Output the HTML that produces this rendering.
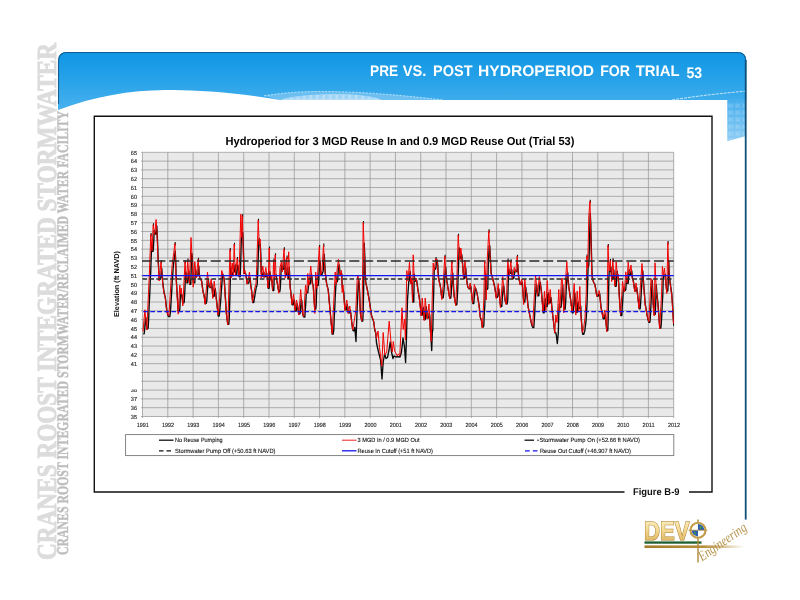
<!DOCTYPE html>
<html><head><meta charset="utf-8"><title>PRE VS. POST HYDROPERIOD FOR TRIAL 53</title>
<style>html,body{margin:0;padding:0;background:#fff}body{width:800px;height:600px;position:relative;overflow:hidden;font-family:"Liberation Sans",sans-serif}</style>
</head><body>
<svg width="800" height="600" viewBox="0 0 800 600" style="position:absolute;left:0;top:0;will-change:transform;text-rendering:geometricPrecision;font-family:'Liberation Sans',sans-serif">
<defs>
<linearGradient id="bg" x1="0" y1="0" x2="0" y2="1"><stop offset="0" stop-color="#0f96e5"/><stop offset="0.55" stop-color="#2ba4e9"/><stop offset="1" stop-color="#4ab1ee"/></linearGradient>
<linearGradient id="strip" x1="0" y1="0" x2="0" y2="1"><stop offset="0" stop-color="#45aeed"/><stop offset="1" stop-color="#8fcdf4"/></linearGradient>
<linearGradient id="gold" x1="0" y1="0" x2="0" y2="1"><stop offset="0" stop-color="#fff6d2"/><stop offset="0.5" stop-color="#f3d88f"/><stop offset="1" stop-color="#d1a450"/></linearGradient>
<linearGradient id="goldbar" x1="0" y1="0" x2="1" y2="0"><stop offset="0" stop-color="#a67c2c"/><stop offset="0.6" stop-color="#b98f3e"/><stop offset="1" stop-color="#b98f3e" stop-opacity="0"/></linearGradient>
<pattern id="chk" x="728.5" y="103.5" width="7" height="7" patternUnits="userSpaceOnUse"><rect x="0" y="0" width="2" height="1.8" fill="#fff" opacity="0.22"/><rect x="2.5" y="0" width="2" height="1.8" fill="#fff" opacity="0.22"/><rect x="0" y="2.2" width="2" height="1.8" fill="#fff" opacity="0.22"/><rect x="2.5" y="2.2" width="2" height="1.8" fill="#fff" opacity="0.22"/></pattern>
<pattern id="chk2" x="286" y="95" width="6.5" height="6.5" patternUnits="userSpaceOnUse"><rect x="0" y="0" width="4" height="4" fill="#6dbdf0" opacity="0.35"/></pattern>
<clipPath id="plotclip"><rect x="142" y="152" width="532" height="265"/></clipPath>
</defs>
<rect width="800" height="600" fill="#fff"/>
<g font-family="'Liberation Serif',serif" font-weight="bold">
<text transform="translate(56,560) rotate(-90)" font-size="27.6" fill="#dcdcdc" stroke="#dcdcdc" stroke-width="0.9" textLength="517" lengthAdjust="spacingAndGlyphs">CRANES ROOST INTEGRATED STORMWATER</text>
<text transform="translate(68.3,555) rotate(-90)" font-size="16" fill="#bdbdbd" stroke="#bdbdbd" stroke-width="0.45" textLength="444" lengthAdjust="spacingAndGlyphs">CRANES ROOST INTEGRATED STORMWATER/RECLAIMED WATER FACILITY</text>
</g>
<path d="M58,110 L58,61 Q58,52 67,52 L737.3,52 Q746.3,52 746.3,61 L746.3,100 L280,100 C268,98.2 255,96 240,94.3 C215,91.3 185,90 165,90 C130,90.5 95,96 58,110 Z" fill="url(#bg)"/>
<path d="M727.3,99 L746,99 L746,136 L727.3,141.3 Z" fill="url(#strip)"/>
<path d="M727.3,103 L746,103 L746,136 L727.3,141.3 Z" fill="url(#chk)"/>
<path d="M264,95.8 C285,92.6 300,91.5 320,91.5 C360,91.5 400,95 443,100 L279,100 Z" fill="#9fd3f5" opacity="0.5"/>
<path d="M283,99 C300,94.6 330,93.8 350,94.6 C365,95.4 376,97.5 382,100 L281,100 Z" fill="#d4ebfb" opacity="0.75"/>
<path d="M283,99 C300,94.6 330,93.8 350,94.6 C365,95.4 376,97.5 382,100 L281,100 Z" fill="url(#chk2)"/>
<path d="M264,95.8 C285,92.6 300,91.5 320,91.5 C360,91.5 400,95 443,100" fill="none" stroke="#e8f5fd" stroke-width="0.7" stroke-dasharray="2.2 1.2" opacity="0.9"/>
<path d="M672,100 C700,95.5 725,93 745,91.2" fill="none" stroke="#e6f4fd" stroke-width="0.8" stroke-dasharray="3 1"/>
<path d="M58.5,104 L58.5,61 Q58.5,52.5 67,52.5 L737.3,52.5 Q745.8,52.5 745.8,61" fill="none" stroke="#0f5486" stroke-width="1.1" opacity="0.85"/>
<rect x="744.8" y="60" width="1.8" height="459.6" fill="#0f507b"/>
<g font-size="15.4" font-weight="bold" fill="#fff">
<text x="370.1" y="75.5" textLength="28.15" lengthAdjust="spacingAndGlyphs">PRE</text>
<text x="402.75" y="75.5" textLength="23.65" lengthAdjust="spacingAndGlyphs">VS.</text>
<text x="433.1" y="75.5" textLength="39.40" lengthAdjust="spacingAndGlyphs">POST</text>
<text x="478.1" y="75.5" textLength="116.00" lengthAdjust="spacingAndGlyphs">HYDROPERIOD</text>
<text x="600.2" y="75.5" textLength="29.90" lengthAdjust="spacingAndGlyphs">FOR</text>
<text x="635.75" y="75.5" textLength="43.85" lengthAdjust="spacingAndGlyphs">TRIAL</text>
<text x="686.4" y="78.1" textLength="15.70" lengthAdjust="spacingAndGlyphs">53</text>
</g>
<path d="M624.5,492 L94.3,492 L94.3,116.3 L712,116.3 L712,492 L689,492" fill="none" stroke="#111" stroke-width="1.4"/>
<text x="633" y="495" font-size="9.8" font-weight="bold" fill="#111" textLength="46.5" lengthAdjust="spacingAndGlyphs">Figure B-9</text>
<text x="225.5" y="145.2" font-size="11.6" font-weight="bold" fill="#000" textLength="349" lengthAdjust="spacingAndGlyphs">Hydroperiod for 3 MGD Reuse In and 0.9 MGD Reuse Out (Trial 53)</text>
<rect x="142.5" y="152.3" width="531.2" height="264.2" fill="#e9e9e9"/>
<path d="M141.0,416.50 H673.7 M141.0,407.69 H673.7 M141.0,398.89 H673.7 M141.0,390.08 H673.7 M141.0,381.27 H673.7 M141.0,372.47 H673.7 M141.0,363.66 H673.7 M141.0,354.85 H673.7 M141.0,346.05 H673.7 M141.0,337.24 H673.7 M141.0,328.43 H673.7 M141.0,319.63 H673.7 M141.0,310.82 H673.7 M141.0,302.01 H673.7 M141.0,293.21 H673.7 M141.0,284.40 H673.7 M141.0,275.59 H673.7 M141.0,266.79 H673.7 M141.0,257.98 H673.7 M141.0,249.17 H673.7 M141.0,240.37 H673.7 M141.0,231.56 H673.7 M141.0,222.75 H673.7 M141.0,213.95 H673.7 M141.0,205.14 H673.7 M141.0,196.33 H673.7 M141.0,187.53 H673.7 M141.0,178.72 H673.7 M141.0,169.91 H673.7 M141.0,161.11 H673.7 M141.0,152.30 H673.7 M142.50,152.3 V418.0 M167.80,152.3 V418.0 M193.09,152.3 V418.0 M218.39,152.3 V418.0 M243.68,152.3 V418.0 M268.98,152.3 V418.0 M294.27,152.3 V418.0 M319.57,152.3 V418.0 M344.86,152.3 V418.0 M370.16,152.3 V418.0 M395.45,152.3 V418.0 M420.75,152.3 V418.0 M446.04,152.3 V418.0 M471.34,152.3 V418.0 M496.63,152.3 V418.0 M521.93,152.3 V418.0 M547.22,152.3 V418.0 M572.52,152.3 V418.0 M597.81,152.3 V418.0 M623.11,152.3 V418.0 M648.40,152.3 V418.0 M673.70,152.3 V418.0" fill="none" stroke="#979797" stroke-width="0.75"/>
<g font-size="5.9" fill="#1c1c1c" stroke="#1c1c1c" stroke-width="0.12">
<text x="130.8" y="418.6" textLength="6.2" lengthAdjust="spacingAndGlyphs">35</text>
<text x="130.8" y="409.8" textLength="6.2" lengthAdjust="spacingAndGlyphs">36</text>
<text x="130.8" y="401.0" textLength="6.2" lengthAdjust="spacingAndGlyphs">37</text>
<text x="130.8" y="392.2" textLength="6.2" lengthAdjust="spacingAndGlyphs">38</text>
<text x="130.8" y="365.8" textLength="6.2" lengthAdjust="spacingAndGlyphs">41</text>
<text x="130.8" y="357.0" textLength="6.2" lengthAdjust="spacingAndGlyphs">42</text>
<text x="130.8" y="348.2" textLength="6.2" lengthAdjust="spacingAndGlyphs">43</text>
<text x="130.8" y="339.4" textLength="6.2" lengthAdjust="spacingAndGlyphs">44</text>
<text x="130.8" y="330.6" textLength="6.2" lengthAdjust="spacingAndGlyphs">45</text>
<text x="130.8" y="321.8" textLength="6.2" lengthAdjust="spacingAndGlyphs">46</text>
<text x="130.8" y="313.0" textLength="6.2" lengthAdjust="spacingAndGlyphs">47</text>
<text x="130.8" y="304.2" textLength="6.2" lengthAdjust="spacingAndGlyphs">48</text>
<text x="130.8" y="295.4" textLength="6.2" lengthAdjust="spacingAndGlyphs">49</text>
<text x="130.8" y="286.5" textLength="6.2" lengthAdjust="spacingAndGlyphs">50</text>
<text x="130.8" y="277.7" textLength="6.2" lengthAdjust="spacingAndGlyphs">51</text>
<text x="130.8" y="268.9" textLength="6.2" lengthAdjust="spacingAndGlyphs">52</text>
<text x="130.8" y="260.1" textLength="6.2" lengthAdjust="spacingAndGlyphs">53</text>
<text x="130.8" y="251.3" textLength="6.2" lengthAdjust="spacingAndGlyphs">54</text>
<text x="130.8" y="242.5" textLength="6.2" lengthAdjust="spacingAndGlyphs">55</text>
<text x="130.8" y="233.7" textLength="6.2" lengthAdjust="spacingAndGlyphs">56</text>
<text x="130.8" y="224.9" textLength="6.2" lengthAdjust="spacingAndGlyphs">57</text>
<text x="130.8" y="216.1" textLength="6.2" lengthAdjust="spacingAndGlyphs">58</text>
<text x="130.8" y="207.3" textLength="6.2" lengthAdjust="spacingAndGlyphs">59</text>
<text x="130.8" y="198.5" textLength="6.2" lengthAdjust="spacingAndGlyphs">60</text>
<text x="130.8" y="189.7" textLength="6.2" lengthAdjust="spacingAndGlyphs">61</text>
<text x="130.8" y="180.9" textLength="6.2" lengthAdjust="spacingAndGlyphs">62</text>
<text x="130.8" y="172.1" textLength="6.2" lengthAdjust="spacingAndGlyphs">63</text>
<text x="130.8" y="163.3" textLength="6.2" lengthAdjust="spacingAndGlyphs">64</text>
<text x="130.8" y="154.5" textLength="6.2" lengthAdjust="spacingAndGlyphs">65</text>
</g>
<rect x="128" y="385.5" width="11" height="3.9" fill="#fff"/>
<g font-size="6.1" fill="#1c1c1c" stroke="#1c1c1c" stroke-width="0.12">
<text x="136.7" y="426.9" textLength="12.1" lengthAdjust="spacingAndGlyphs">1991</text>
<text x="162.0" y="426.9" textLength="12.1" lengthAdjust="spacingAndGlyphs">1992</text>
<text x="187.3" y="426.9" textLength="12.1" lengthAdjust="spacingAndGlyphs">1993</text>
<text x="212.6" y="426.9" textLength="12.1" lengthAdjust="spacingAndGlyphs">1994</text>
<text x="237.9" y="426.9" textLength="12.1" lengthAdjust="spacingAndGlyphs">1995</text>
<text x="263.2" y="426.9" textLength="12.1" lengthAdjust="spacingAndGlyphs">1996</text>
<text x="288.5" y="426.9" textLength="12.1" lengthAdjust="spacingAndGlyphs">1997</text>
<text x="313.8" y="426.9" textLength="12.1" lengthAdjust="spacingAndGlyphs">1998</text>
<text x="339.1" y="426.9" textLength="12.1" lengthAdjust="spacingAndGlyphs">1999</text>
<text x="364.4" y="426.9" textLength="12.1" lengthAdjust="spacingAndGlyphs">2000</text>
<text x="389.7" y="426.9" textLength="12.1" lengthAdjust="spacingAndGlyphs">2001</text>
<text x="414.9" y="426.9" textLength="12.1" lengthAdjust="spacingAndGlyphs">2002</text>
<text x="440.2" y="426.9" textLength="12.1" lengthAdjust="spacingAndGlyphs">2003</text>
<text x="465.5" y="426.9" textLength="12.1" lengthAdjust="spacingAndGlyphs">2004</text>
<text x="490.8" y="426.9" textLength="12.1" lengthAdjust="spacingAndGlyphs">2005</text>
<text x="516.1" y="426.9" textLength="12.1" lengthAdjust="spacingAndGlyphs">2006</text>
<text x="541.4" y="426.9" textLength="12.1" lengthAdjust="spacingAndGlyphs">2007</text>
<text x="566.7" y="426.9" textLength="12.1" lengthAdjust="spacingAndGlyphs">2008</text>
<text x="592.0" y="426.9" textLength="12.1" lengthAdjust="spacingAndGlyphs">2009</text>
<text x="617.3" y="426.9" textLength="12.1" lengthAdjust="spacingAndGlyphs">2010</text>
<text x="642.6" y="426.9" textLength="12.1" lengthAdjust="spacingAndGlyphs">2011</text>
<text x="667.9" y="426.9" textLength="12.1" lengthAdjust="spacingAndGlyphs">2012</text>
</g>
<text transform="translate(119.3,284) rotate(-90)" text-anchor="middle" font-size="7.2" font-weight="bold" fill="#111" textLength="66" lengthAdjust="spacingAndGlyphs">Elevation (ft NAVD)</text>
<g clip-path="url(#plotclip)" fill="none" stroke-linejoin="round">
<path d="M143.2,333.8 L143.8,333.8 L144.2,333.8 L144.8,327.7 L145.2,321.5 L145.8,317.3 L146.2,323.0 L146.8,328.8 L147.2,328.8 L147.8,328.8 L148.2,327.6 L148.8,316.0 L149.2,304.6 L149.8,293.5 L150.2,282.1 L150.8,269.9 L151.2,256.4 L151.8,244.4 L152.2,251.3 L152.8,251.3 L153.2,251.3 L153.8,240.4 L154.2,230.6 L154.8,234.1 L155.2,234.1 L155.8,234.1 L156.2,230.8 L156.8,225.8 L157.2,234.4 L157.8,247.3 L158.2,260.3 L158.8,269.8 L159.2,279.4 L159.8,279.4 L160.2,279.4 L160.8,277.5 L161.2,272.7 L161.8,268.6 L162.2,275.5 L162.8,282.3 L163.2,286.2 L163.8,290.1 L164.2,293.3 L164.8,295.2 L165.2,297.1 L165.8,300.9 L166.2,305.6 L166.8,310.1 L167.2,312.5 L167.8,314.7 L168.2,316.2 L168.8,316.6 L169.2,316.6 L169.8,316.6 L170.2,313.9 L170.8,306.4 L171.2,299.3 L171.8,290.3 L172.2,281.3 L172.8,274.2 L173.2,267.5 L173.8,262.5 L174.2,258.8 L174.8,255.1 L175.2,251.2 L175.8,262.6 L176.2,278.3 L176.8,286.5 L177.2,294.8 L177.8,303.0 L178.2,311.6 L178.8,311.6 L179.2,311.6 L179.8,309.0 L180.2,299.9 L180.8,294.3 L181.2,294.3 L181.8,294.3 L182.2,297.3 L182.8,302.9 L183.2,302.9 L183.8,302.9 L184.2,302.3 L184.8,292.1 L185.2,282.0 L185.8,271.9 L186.2,275.8 L186.8,282.8 L187.2,282.8 L187.8,282.8 L188.2,273.4 L188.8,271.0 L189.2,277.6 L189.8,284.3 L190.2,284.3 L190.8,284.3 L191.2,268.8 L191.8,253.3 L192.2,256.6 L192.8,268.5 L193.2,282.1 L193.8,282.7 L194.2,282.7 L194.8,282.7 L195.2,274.7 L195.8,270.1 L196.2,275.9 L196.8,275.9 L197.2,275.9 L197.8,275.5 L198.2,270.8 L198.8,266.1 L199.2,273.3 L199.8,277.4 L200.2,278.4 L200.8,279.3 L201.2,280.3 L201.8,281.3 L202.2,285.4 L202.8,289.4 L203.2,292.4 L203.8,294.2 L204.2,296.2 L204.8,299.8 L205.2,303.4 L205.8,303.4 L206.2,303.4 L206.8,300.6 L207.2,293.5 L207.8,286.4 L208.2,279.4 L208.8,283.1 L209.2,286.1 L209.8,287.5 L210.2,287.5 L210.8,287.5 L211.2,287.0 L211.8,283.8 L212.2,289.1 L212.8,295.1 L213.2,296.3 L213.8,296.3 L214.2,296.3 L214.8,290.2 L215.2,288.7 L215.8,293.1 L216.2,297.6 L216.8,302.0 L217.2,306.4 L217.8,311.2 L218.2,316.0 L218.8,316.0 L219.2,316.0 L219.8,310.8 L220.2,305.6 L220.8,299.7 L221.2,292.4 L221.8,285.2 L222.2,279.6 L222.8,274.1 L223.2,275.4 L223.8,277.4 L224.2,279.3 L224.8,287.1 L225.2,295.0 L225.8,302.8 L226.2,311.0 L226.8,316.7 L227.2,320.5 L227.8,324.3 L228.2,324.3 L228.8,324.3 L229.2,319.2 L229.8,301.1 L230.2,284.0 L230.8,266.9 L231.2,275.7 L231.8,275.7 L232.2,275.7 L232.8,272.8 L233.2,272.0 L233.8,272.0 L234.2,272.0 L234.8,268.5 L235.2,265.0 L235.8,274.4 L236.2,274.4 L236.8,274.4 L237.2,269.8 L237.8,265.2 L238.2,266.8 L238.8,271.8 L239.2,276.8 L239.8,276.8 L240.2,276.8 L240.8,259.5 L241.2,242.2 L241.8,232.6 L242.2,232.6 L242.8,232.6 L243.2,243.0 L243.8,262.3 L244.2,273.3 L244.8,273.3 L245.2,273.3 L245.8,273.9 L246.2,277.0 L246.8,280.1 L247.2,283.3 L247.8,283.3 L248.2,283.3 L248.8,282.9 L249.2,280.3 L249.8,277.6 L250.2,278.5 L250.8,284.8 L251.2,288.1 L251.8,291.4 L252.2,297.0 L252.8,302.5 L253.2,302.5 L253.8,302.5 L254.2,299.4 L254.8,296.3 L255.2,293.2 L255.8,290.2 L256.2,287.6 L256.8,286.0 L257.2,284.3 L257.8,272.1 L258.2,258.5 L258.8,242.7 L259.2,238.5 L259.8,243.8 L260.2,243.8 L260.8,253.5 L261.2,271.2 L261.8,276.0 L262.2,276.0 L262.8,276.0 L263.2,272.3 L263.8,272.3 L264.2,276.6 L264.8,276.6 L265.2,276.6 L265.8,276.3 L266.2,273.1 L266.8,273.1 L267.2,276.8 L267.8,282.1 L268.2,288.3 L268.8,288.3 L269.2,288.3 L269.8,271.6 L270.2,274.3 L270.8,279.3 L271.2,279.3 L271.8,279.3 L272.2,284.2 L272.8,290.5 L273.2,290.5 L273.8,290.5 L274.2,277.9 L274.8,275.4 L275.2,275.4 L275.8,275.4 L276.2,274.9 L276.8,280.7 L277.2,282.3 L277.8,285.4 L278.2,288.5 L278.8,291.6 L279.2,291.6 L279.8,291.6 L280.2,289.2 L280.8,278.5 L281.2,267.8 L281.8,265.8 L282.2,269.3 L282.8,269.3 L283.2,269.3 L283.8,268.6 L284.2,262.5 L284.8,259.7 L285.2,273.0 L285.8,274.4 L286.2,274.4 L286.8,274.4 L287.2,267.8 L287.8,278.3 L288.2,278.3 L288.8,278.3 L289.2,267.4 L289.8,276.2 L290.2,287.1 L290.8,291.5 L291.2,295.9 L291.8,300.4 L292.2,304.8 L292.8,304.8 L293.2,304.8 L293.8,301.3 L294.2,299.8 L294.8,305.3 L295.2,311.1 L295.8,311.1 L296.2,311.1 L296.8,307.3 L297.2,303.8 L297.8,306.8 L298.2,310.1 L298.8,313.9 L299.2,313.9 L299.8,313.9 L300.2,313.1 L300.8,305.9 L301.2,299.2 L301.8,300.5 L302.2,307.1 L302.8,314.4 L303.2,315.7 L303.8,317.1 L304.2,317.1 L304.8,317.1 L305.2,311.9 L305.8,302.8 L306.2,294.0 L306.8,292.8 L307.2,292.8 L307.8,292.8 L308.2,288.7 L308.8,282.2 L309.2,283.9 L309.8,283.9 L310.2,283.9 L310.8,279.0 L311.2,274.1 L311.8,275.3 L312.2,281.7 L312.8,284.7 L313.2,285.3 L313.8,293.2 L314.2,301.1 L314.8,309.0 L315.2,309.0 L315.8,309.0 L316.2,304.6 L316.8,284.3 L317.2,285.4 L317.8,285.4 L318.2,285.4 L318.8,277.0 L319.2,268.6 L319.8,260.2 L320.2,263.4 L320.8,275.3 L321.2,275.3 L321.8,275.3 L322.2,273.8 L322.8,272.3 L323.2,270.8 L323.8,262.3 L324.2,254.3 L324.8,263.3 L325.2,272.3 L325.8,276.3 L326.2,280.3 L326.8,284.3 L327.2,286.1 L327.8,288.0 L328.2,289.8 L328.8,295.3 L329.2,300.7 L329.8,306.2 L330.2,312.0 L330.8,317.7 L331.2,323.1 L331.8,328.6 L332.2,334.1 L332.8,334.1 L333.2,334.1 L333.8,329.7 L334.2,318.6 L334.8,307.5 L335.2,297.3 L335.8,286.9 L336.2,281.9 L336.8,281.9 L337.2,281.9 L337.8,279.2 L338.2,270.8 L338.8,267.0 L339.2,264.8 L339.8,270.0 L340.2,275.3 L340.8,275.3 L341.2,275.3 L341.8,273.8 L342.2,286.5 L342.8,290.0 L343.2,290.0 L343.8,292.4 L344.2,299.5 L344.8,306.5 L345.2,309.8 L345.8,309.8 L346.2,309.8 L346.8,307.1 L347.2,304.5 L347.8,307.1 L348.2,312.3 L348.8,312.9 L349.2,312.9 L349.8,312.9 L350.2,310.1 L350.8,312.8 L351.2,317.5 L351.8,322.2 L352.2,326.3 L352.8,330.0 L353.2,330.8 L353.8,330.8 L354.2,330.8 L354.8,327.3 L356.0,341.5 L357.2,306.3 L357.8,295.1 L358.2,283.8 L358.8,279.8 L359.2,284.4 L359.8,295.7 L360.2,308.6 L360.8,315.9 L361.2,318.4 L361.8,321.0 L362.2,321.0 L362.8,321.0 L363.2,309.9 L363.8,281.3 L364.2,243.1 L364.8,255.7 L365.2,272.3 L365.8,282.5 L366.2,284.6 L366.8,286.6 L367.2,288.9 L367.8,291.6 L368.2,294.3 L368.8,297.1 L369.2,299.8 L369.8,303.2 L370.2,306.6 L370.8,310.0 L371.2,314.0 L371.8,316.3 L372.2,317.7 L372.8,319.1 L373.2,320.5 L373.8,321.9 L374.2,326.0 L374.8,330.1 L375.2,331.6 L375.8,333.1 L376.5,343.0 L378.5,352.0 L380.6,360.0 L382.0,379.0 L383.2,362.0 L384.6,354.0 L386.0,358.5 L387.5,357.5 L389.0,350.0 L390.2,342.0 L391.5,352.0 L393.0,358.5 L394.0,356.0 L396.0,357.0 L398.0,356.6 L400.0,357.0 L401.5,352.0 L403.0,338.0 L404.4,346.0 L405.6,362.5 L406.4,340.0 L407.5,300.0 L408.8,281.3 L409.2,281.3 L409.8,275.0 L410.2,271.6 L410.8,280.7 L411.2,282.7 L411.8,282.7 L412.2,285.1 L412.8,302.1 L413.2,302.1 L413.8,302.1 L414.2,274.2 L414.8,281.0 L415.2,281.0 L415.8,281.0 L416.2,280.2 L416.8,280.6 L417.2,284.3 L417.8,288.0 L418.2,291.4 L418.8,294.3 L419.2,297.2 L419.8,301.0 L420.2,305.5 L420.8,310.0 L421.2,315.1 L421.8,315.1 L422.2,315.1 L422.8,311.2 L423.2,307.3 L423.8,313.4 L424.2,319.5 L424.8,319.5 L425.2,319.5 L425.8,314.6 L426.2,306.7 L426.8,312.4 L427.2,318.1 L427.8,318.1 L428.2,318.1 L428.8,317.6 L429.2,313.1 L429.8,315.6 L430.2,327.1 L431.0,338.0 L431.7,350.5 L432.4,330.0 L432.8,330.9 L433.2,308.0 L433.8,288.2 L434.2,270.4 L434.8,269.3 L435.2,269.3 L435.8,268.5 L436.2,264.8 L436.8,261.1 L437.2,260.1 L437.8,265.2 L438.2,273.4 L438.8,279.1 L439.2,281.2 L439.8,283.4 L440.2,285.5 L440.8,288.8 L441.2,293.1 L441.8,297.3 L442.2,297.7 L442.8,297.7 L443.2,297.7 L443.8,292.3 L444.2,286.9 L444.8,279.5 L445.2,270.7 L445.8,267.4 L446.2,275.2 L446.8,280.1 L447.2,283.2 L447.8,286.2 L448.2,289.3 L448.8,292.3 L449.2,295.1 L449.8,298.0 L450.2,298.0 L450.8,298.0 L451.2,293.8 L451.8,284.9 L452.2,276.0 L452.8,273.2 L453.2,281.3 L453.8,290.0 L454.2,296.4 L454.8,299.2 L455.2,301.9 L455.8,304.7 L456.2,304.7 L456.8,304.7 L457.2,299.1 L457.8,288.0 L458.2,274.8 L458.8,258.4 L459.2,247.9 L459.8,255.6 L460.2,258.1 L460.8,258.1 L461.2,258.1 L461.8,254.7 L462.2,260.1 L462.8,265.8 L463.2,272.0 L463.8,278.3 L464.2,278.3 L464.8,278.3 L465.2,272.3 L465.8,267.8 L466.2,275.3 L466.8,280.2 L467.2,283.5 L467.8,286.7 L468.2,287.7 L468.8,288.7 L469.2,288.7 L469.8,288.7 L470.2,288.4 L470.8,286.3 L471.2,290.3 L471.8,294.7 L472.2,299.1 L472.8,303.5 L473.2,303.5 L473.8,303.5 L474.2,298.3 L474.8,293.1 L475.2,287.9 L475.8,288.6 L476.2,290.2 L476.8,291.8 L477.2,294.0 L477.8,297.1 L478.2,300.2 L478.8,303.2 L479.2,306.3 L479.8,311.7 L480.2,317.1 L480.8,318.8 L481.2,319.6 L481.8,322.6 L482.2,327.1 L482.8,327.1 L483.2,327.1 L483.8,325.8 L484.2,315.8 L484.8,305.9 L485.2,290.7 L485.8,274.2 L486.2,289.3 L486.8,289.3 L487.2,289.3 L487.8,288.3 L488.2,268.3 L488.8,254.8 L489.2,245.7 L489.8,245.9 L490.2,256.1 L490.8,264.9 L491.2,273.8 L491.8,275.3 L492.2,276.8 L492.8,278.3 L493.2,280.5 L493.8,282.6 L494.2,284.8 L494.8,287.0 L495.2,289.8 L495.8,293.6 L496.2,297.3 L496.8,297.3 L497.2,297.3 L497.8,296.5 L498.2,292.8 L498.8,289.0 L499.2,292.5 L499.8,298.0 L500.2,303.4 L500.8,306.5 L501.2,306.5 L501.8,306.5 L502.2,299.7 L502.8,293.0 L503.2,286.2 L503.8,285.8 L504.2,291.3 L504.8,296.9 L505.2,300.9 L505.8,302.4 L506.2,303.9 L506.8,303.9 L507.2,303.9 L507.8,298.9 L508.2,284.2 L508.8,269.3 L509.2,272.3 L509.8,273.4 L510.2,273.4 L510.8,273.4 L511.2,268.7 L511.8,269.8 L512.2,276.1 L512.8,278.5 L513.2,278.5 L513.8,278.5 L514.2,275.4 L514.8,272.2 L515.2,270.1 L515.8,271.5 L516.2,271.5 L516.8,271.5 L517.2,270.0 L517.8,264.4 L518.2,271.3 L518.8,277.7 L519.2,279.9 L519.8,282.2 L520.2,284.4 L520.8,284.4 L521.2,284.4 L521.8,284.2 L522.2,282.3 L522.8,288.7 L523.2,295.4 L523.8,302.1 L524.2,302.1 L524.8,302.1 L525.2,297.8 L525.8,287.2 L526.2,291.4 L526.8,293.5 L527.2,297.0 L527.8,302.8 L528.2,307.3 L528.8,309.6 L529.2,312.5 L529.8,315.0 L530.2,317.6 L530.8,320.1 L531.2,322.6 L531.8,324.8 L532.2,326.2 L532.8,327.5 L533.2,327.5 L533.8,327.5 L534.2,322.0 L534.8,311.9 L535.2,302.2 L535.8,292.8 L536.2,284.1 L536.8,285.6 L537.2,290.7 L537.8,295.8 L538.2,295.8 L538.8,295.8 L539.2,290.5 L539.8,285.2 L540.2,282.1 L540.8,286.0 L541.2,289.8 L541.8,294.8 L542.2,300.6 L542.8,306.5 L543.2,312.8 L543.8,312.8 L544.2,312.8 L544.8,305.3 L545.2,298.8 L545.8,306.3 L546.2,306.5 L546.8,306.5 L547.2,306.5 L547.8,295.8 L548.2,292.8 L548.8,300.3 L549.2,302.7 L549.8,302.7 L550.2,302.7 L550.8,297.3 L551.2,299.6 L551.8,305.6 L552.2,311.1 L552.8,315.2 L553.2,319.2 L553.8,323.6 L554.2,328.2 L554.8,332.7 L555.2,332.7 L555.8,332.7 L556.3,335.0 L557.3,343.5 L558.3,333.0 L558.8,314.2 L559.2,304.5 L559.8,307.3 L560.2,307.3 L560.8,307.3 L561.2,306.8 L561.8,297.6 L562.2,288.5 L562.8,284.8 L563.2,295.7 L563.8,306.6 L564.2,309.1 L564.8,309.1 L565.2,309.1 L565.8,299.2 L566.2,289.3 L566.8,280.9 L567.2,273.6 L567.8,272.8 L568.2,280.7 L568.8,286.0 L569.2,289.5 L569.8,293.1 L570.2,296.7 L570.8,300.3 L571.2,304.3 L571.8,308.3 L572.2,312.8 L572.8,312.8 L573.2,312.8 L573.8,305.8 L574.2,299.3 L574.8,292.9 L575.2,299.6 L575.8,309.4 L576.2,312.3 L576.8,312.3 L577.2,312.3 L577.8,303.3 L578.2,301.8 L578.8,308.4 L579.2,308.4 L579.8,308.4 L580.2,307.2 L580.8,306.4 L581.2,318.1 L581.8,324.5 L582.2,331.0 L582.8,334.3 L583.2,334.3 L583.8,334.3 L584.2,332.6 L584.8,331.0 L585.2,327.5 L585.8,323.1 L586.2,318.7 L586.8,308.4 L587.2,299.1 L587.8,275.8 L588.2,265.6 L588.8,265.6 L589.2,254.0 L589.8,230.1 L590.2,213.4 L590.8,223.5 L591.2,244.2 L591.8,263.9 L592.2,276.7 L592.8,278.8 L593.2,280.9 L593.8,282.4 L594.2,283.3 L594.8,284.2 L595.2,286.1 L595.8,289.2 L596.2,292.4 L596.8,295.5 L597.2,296.1 L597.8,296.1 L598.2,296.1 L598.8,294.9 L599.2,293.7 L599.8,293.9 L600.2,299.1 L600.8,304.2 L601.2,308.3 L601.8,311.0 L602.2,313.5 L602.8,316.1 L603.2,318.7 L603.8,318.7 L604.2,318.7 L604.8,316.4 L605.2,314.2 L605.8,318.8 L606.2,324.7 L606.8,330.6 L607.2,330.6 L607.8,330.6 L608.2,318.2 L608.8,280.3 L609.2,271.3 L609.8,271.3 L610.2,271.3 L610.8,266.9 L611.2,271.6 L611.8,278.8 L612.2,278.8 L612.8,278.8 L613.2,275.9 L613.8,270.0 L614.2,276.3 L614.8,281.3 L615.2,286.3 L615.8,286.3 L616.2,286.3 L616.8,276.3 L617.2,271.1 L617.8,276.6 L618.2,276.6 L618.8,283.8 L619.2,293.3 L619.8,302.8 L620.2,308.8 L620.8,315.5 L621.2,315.5 L621.8,315.5 L622.2,307.3 L622.8,299.8 L623.2,291.4 L623.8,287.6 L624.2,290.6 L624.8,290.6 L625.2,290.6 L625.8,289.6 L626.2,282.9 L626.8,278.6 L627.2,283.3 L627.8,283.3 L628.2,283.3 L628.8,274.6 L629.2,269.7 L629.8,274.3 L630.2,274.3 L630.8,274.3 L631.2,271.3 L631.8,270.9 L632.2,276.5 L632.8,279.4 L633.2,280.3 L633.8,283.6 L634.2,287.0 L634.8,290.3 L635.2,290.8 L635.8,290.8 L636.2,290.8 L636.8,287.5 L637.2,291.6 L637.8,295.8 L638.2,300.1 L638.8,304.4 L639.2,308.8 L639.8,308.8 L640.2,308.8 L640.8,300.8 L641.2,292.8 L641.8,284.8 L642.2,277.8 L642.8,270.8 L643.2,277.8 L643.8,284.8 L644.2,291.3 L644.8,297.8 L645.2,304.3 L645.8,307.0 L646.2,309.8 L646.8,313.0 L647.2,315.9 L647.8,318.3 L648.2,320.3 L648.8,322.3 L649.2,322.3 L649.8,322.3 L650.2,319.4 L650.8,308.8 L651.2,299.2 L651.8,289.1 L652.2,280.3 L652.8,291.5 L653.2,302.8 L653.8,309.8 L654.2,314.4 L654.8,314.4 L655.2,314.4 L655.8,301.1 L656.2,284.9 L656.8,292.1 L657.2,296.8 L657.8,301.5 L658.2,306.9 L658.8,314.0 L659.2,321.0 L659.8,328.1 L660.2,328.1 L660.8,328.1 L661.2,324.8 L661.8,314.7 L662.2,304.7 L662.8,295.3 L663.2,279.5 L663.8,275.8 L664.2,275.8 L664.8,275.8 L665.2,274.3 L665.8,280.3 L666.2,286.3 L666.8,291.0 L667.2,291.0 L667.8,291.0 L668.2,283.6 L668.8,261.2 L669.2,274.3 L669.8,279.0 L670.2,283.2 L670.8,286.8 L671.2,290.3 L671.8,293.9 L672.2,300.0 L672.8,308.0 L673.2,316.6 L673.8,325.2 L674.2,325.2" stroke="#0a0a0a" stroke-width="1.35"/>
<path d="M151.1,236.5 L151.1,233.0 M153.5,226.8 L153.5,223.3 M161.3,263.5 L161.3,260.0 M175.2,245.5 L175.2,242.0 M185.3,263.5 L185.3,260.0 M188.0,262.0 L188.0,258.5 M198.5,261.2 L198.5,257.7 M230.3,251.5 L230.3,248.0 M234.5,246.2 L234.5,242.7 M237.5,260.5 L237.5,257.0 M242.6,217.8 L242.6,214.3 M258.5,222.2 L258.5,218.7 M269.5,250.0 L269.5,246.5 M274.0,262.0 L274.0,258.5 M275.5,256.8 L275.5,253.3 M284.4,250.8 L284.4,247.3 M287.1,259.0 L287.1,255.5 M319.6,248.5 L319.6,245.0 M323.8,247.0 L323.8,243.5 M363.5,224.5 L363.5,221.0 M436.1,260.5 L436.1,257.0 M445.1,258.2 L445.1,254.7 M452.1,263.5 L452.1,260.0 M458.5,237.2 L458.5,233.7 M484.9,263.5 L484.9,260.0 M489.1,232.8 L489.1,229.3 M508.1,262.0 L508.1,258.5 M511.1,262.8 L511.1,259.3 M517.5,258.2 L517.5,254.7 M587.1,258.0 L587.1,254.5 M590.3,203.2 L590.3,199.7 M608.3,247.5 L608.3,244.0 M610.5,262.5 L610.5,259.0 M613.1,261.8 L613.1,258.3 M668.1,244.5 L668.1,241.0" stroke="#0a0a0a" stroke-width="1.1"/>
<path d="M143.0,331.5 L144.9,309.8 L146.8,330.0 L148.2,300.0 L149.3,275.0 L150.8,234.5 L152.0,251.0 L153.2,224.8 L154.6,234.5 L156.1,219.5 L156.9,231.5 L158.0,260.0 L159.1,281.0 L160.2,270.5 L161.0,261.5 L162.5,282.0 L163.8,292.4 L165.2,297.4 L166.5,309.7 L167.8,315.0 L168.8,315.8 L169.9,300.2 L171.1,279.8 L172.2,264.5 L173.8,252.5 L174.9,243.5 L176.0,278.0 L178.2,314.2 L179.8,285.0 L180.5,294.0 L181.2,288.0 L182.8,306.0 L185.0,261.5 L186.5,282.5 L187.7,260.0 L189.5,284.0 L191.0,237.5 L192.2,260.0 L193.2,287.2 L194.8,261.5 L196.2,278.0 L198.2,259.2 L199.2,276.5 L201.5,281.0 L202.7,291.0 L204.0,295.7 L205.2,304.5 L207.5,272.0 L208.7,285.0 L209.8,288.0 L211.2,279.0 L212.8,298.5 L214.2,281.2 L215.8,295.5 L218.0,315.0 L219.3,302.7 L220.5,284.4 L221.8,270.5 L224.0,279.0 L226.2,313.5 L227.8,324.8 L230.0,249.5 L231.1,278.0 L232.2,263.0 L233.3,275.0 L234.2,244.2 L235.4,275.0 L237.2,258.5 L239.0,276.5 L240.8,214.2 L241.7,237.5 L242.3,215.8 L243.8,273.5 L245.0,270.5 L247.2,284.2 L249.5,272.0 L250.5,284.5 L251.5,291.1 L252.5,302.2 L254.8,288.0 L256.0,284.0 L256.8,264.5 L258.2,220.2 L259.3,245.0 L260.1,239.0 L261.2,278.0 L262.8,266.0 L264.2,278.0 L265.8,267.5 L267.2,278.0 L268.0,288.0 L269.2,248.0 L270.2,280.5 L271.3,275.0 L272.5,290.2 L273.7,260.0 L274.4,278.0 L275.2,254.8 L276.2,279.5 L277.0,282.0 L278.8,293.2 L280.0,267.5 L281.5,261.5 L282.2,272.0 L284.1,248.8 L285.2,278.0 L286.8,257.0 L287.5,278.0 L288.7,251.8 L289.8,285.0 L292.0,304.5 L293.5,294.0 L295.0,310.5 L296.5,300.0 L298.8,315.0 L300.7,289.5 L302.5,313.5 L303.7,316.5 L305.5,285.0 L306.7,294.0 L307.8,273.5 L308.8,285.5 L310.8,266.0 L312.2,284.0 L313.0,285.0 L314.8,313.5 L315.7,272.0 L316.8,288.5 L319.3,246.5 L320.5,275.0 L322.0,270.5 L323.5,245.0 L325.0,272.0 L326.5,284.0 L328.0,289.5 L330.2,313.5 L332.2,333.8 L334.0,297.0 L335.2,272.0 L336.2,284.0 L337.0,270.5 L338.5,259.2 L340.0,275.0 L341.5,270.5 L342.2,292.5 L343.0,285.0 L344.8,310.5 L346.8,300.0 L348.2,313.5 L349.8,306.0 L351.7,322.5 L352.8,330.0 L354.2,321.0 L355.8,310.5 L357.2,279.0 L358.0,275.0 L359.1,285.0 L360.2,313.5 L361.8,321.0 L362.5,281.0 L363.2,222.5 L364.8,263.0 L365.2,281.0 L366.8,287.5 L369.0,299.5 L371.2,314.5 L373.5,320.5 L374.5,328.0 L375.5,330.9 L376.5,338.5 L378.0,331.0 L379.5,347.5 L381.8,366.2 L383.2,332.5 L384.8,355.0 L386.7,352.0 L389.2,321.2 L390.8,340.0 L392.2,352.0 L393.3,341.5 L394.6,350.9 L396.0,353.5 L397.3,355.9 L398.5,353.8 L399.8,355.8 L402.0,307.8 L403.2,329.5 L404.6,319.0 L405.4,340.0 L406.8,270.5 L408.0,281.0 L409.5,262.2 L410.7,284.0 L411.8,278.0 L412.5,301.8 L413.2,254.8 L414.3,281.0 L416.2,278.0 L417.8,290.0 L419.2,298.0 L421.2,316.0 L422.2,298.0 L424.2,320.5 L425.2,298.0 L427.2,319.0 L429.0,304.0 L430.2,329.5 L431.2,341.5 L432.3,295.0 L433.2,263.0 L434.2,270.5 L435.8,258.5 L437.2,260.0 L438.3,278.0 L440.2,286.0 L441.8,299.5 L443.2,284.5 L444.8,256.2 L446.2,278.0 L448.5,292.0 L449.7,298.8 L451.8,261.5 L453.0,281.0 L453.8,295.0 L455.7,305.5 L456.8,281.0 L458.2,235.2 L459.8,260.0 L460.9,248.0 L462.3,263.0 L463.5,278.0 L465.0,260.0 L466.2,278.0 L467.5,286.4 L468.8,289.0 L470.2,283.0 L472.5,303.2 L474.3,284.5 L476.8,292.5 L479.0,306.0 L480.1,317.0 L481.2,318.6 L482.3,327.8 L483.8,300.0 L484.6,261.5 L485.8,278.0 L486.2,300.0 L487.2,260.0 L488.8,230.8 L489.9,254.0 L491.0,273.5 L492.5,278.0 L494.8,288.0 L496.2,298.5 L498.2,283.5 L500.4,307.5 L502.7,276.5 L504.8,300.0 L506.3,304.5 L507.2,278.0 L507.8,260.0 L509.3,275.0 L510.8,260.8 L512.3,279.5 L514.2,267.5 L515.8,272.0 L517.2,256.2 L518.3,276.5 L520.2,285.0 L521.8,279.0 L523.7,304.5 L524.8,279.0 L525.8,290.3 L526.8,294.4 L527.8,306.0 L530.0,316.5 L531.4,322.7 L532.7,326.2 L534.5,292.5 L535.5,275.0 L537.5,295.5 L539.3,276.5 L541.2,291.0 L543.0,312.0 L544.5,291.0 L545.8,310.5 L547.2,280.5 L548.8,304.5 L550.2,289.5 L551.8,309.0 L553.2,319.5 L554.8,333.0 L555.8,315.0 L557.0,322.5 L558.8,289.5 L559.7,312.0 L561.5,279.0 L562.2,278.0 L563.8,312.8 L565.2,285.0 L566.8,261.5 L568.2,283.5 L570.5,300.0 L572.0,312.0 L574.2,283.5 L575.8,315.0 L577.2,291.0 L578.8,312.0 L579.8,286.5 L580.8,314.5 L582.3,332.5 L583.6,328.5 L585.0,317.5 L586.2,295.0 L586.8,256.0 L587.7,268.0 L588.8,215.5 L590.0,201.2 L590.7,232.0 L591.8,275.5 L593.2,281.5 L594.8,284.5 L596.7,296.5 L599.2,290.5 L600.8,307.0 L603.0,317.5 L604.8,310.0 L606.8,331.8 L607.5,280.0 L608.0,245.5 L609.0,271.0 L610.2,260.5 L611.2,274.0 L611.7,281.5 L612.8,259.8 L613.8,274.0 L615.0,286.0 L616.2,262.0 L617.7,278.5 L618.0,274.0 L619.5,302.5 L620.5,314.5 L621.8,295.0 L622.5,281.5 L624.3,292.0 L625.8,271.8 L627.0,283.0 L628.2,262.0 L629.5,274.0 L631.0,265.0 L632.2,278.5 L633.0,280.0 L634.8,292.0 L636.0,283.0 L637.8,298.0 L639.0,308.5 L640.5,284.5 L642.0,263.5 L643.5,284.5 L645.0,304.0 L647.2,316.0 L648.8,322.0 L650.2,295.0 L651.0,278.5 L652.0,280.0 L653.2,307.0 L654.3,316.0 L655.0,262.8 L656.2,289.0 L657.8,304.0 L659.7,328.8 L661.5,295.0 L662.4,266.5 L663.5,275.5 L664.5,268.0 L666.0,286.0 L666.8,293.5 L667.8,242.5 L669.0,274.0 L669.8,281.5 L671.7,295.0 L673.5,323.5" stroke="#f40000" stroke-width="1.0"/>
<path d="M141.5,261.0 H673.7" stroke="#2a2a2a" stroke-width="1.6" stroke-dasharray="10.1 3.75"/>
<path d="M142.5,278.9 H673.7" stroke="#2a2a2a" stroke-width="1.5" stroke-dasharray="4.6 2.3"/>
<path d="M142.5,275.6 H673.7" stroke="#1414ee" stroke-width="1.4"/>
<path d="M143.3,311.6 H673.7" stroke="#1414ee" stroke-width="1.4" stroke-dasharray="4.7 2.3"/>
</g>
<rect x="125.6" y="434.6" width="548.2" height="21" fill="#fff" stroke="#777" stroke-width="0.9"/>
<g font-size="6.1" fill="#111" stroke="#111" stroke-width="0.1">
<path d="M159,440.2 H173.5" stroke="#111" stroke-width="1.3"/>
<text x="175" y="442.3" textLength="47.5" lengthAdjust="spacingAndGlyphs">No Reuse Pumping</text>
<path d="M159,450.8 H173.5" stroke="#111" stroke-width="1.3" stroke-dasharray="4.5 3"/>
<text x="175" y="452.9" textLength="100.5" lengthAdjust="spacingAndGlyphs">Stormwater Pump Off (+50.63 ft NAVD)</text>
<path d="M342,440.2 H356.5" stroke="#f02020" stroke-width="1"/>
<text x="357.5" y="442.3" textLength="62" lengthAdjust="spacingAndGlyphs">3 MGD In / 0.9 MGD Out</text>
<path d="M342,450.8 H356.5" stroke="#1414ee" stroke-width="1.3"/>
<text x="357.5" y="452.9" textLength="75.5" lengthAdjust="spacingAndGlyphs">Reuse In Cutoff (+51 ft NAVD)</text>
<path d="M524.5,440.2 H534" stroke="#111" stroke-width="1.3"/><circle cx="538" cy="440.3" r="0.7" fill="#111"/>
<text x="539.5" y="442.3" textLength="100.5" lengthAdjust="spacingAndGlyphs">Stormwater Pump On (+52.66 ft NAVD)</text>
<path d="M525,450.8 H537.5" stroke="#1414ee" stroke-width="1.3" stroke-dasharray="4.8 3"/>
<text x="540" y="452.9" textLength="91" lengthAdjust="spacingAndGlyphs">Reuse Out Cutoff (+46.907 ft NAVD)</text>
</g>
<g>
<rect x="644.5" y="541.4" width="57" height="2.3" fill="#1d5f30"/>
<rect x="644.5" y="545.4" width="100" height="2.6" fill="url(#goldbar)"/>
<rect x="697.3" y="519.5" width="1.4" height="43" fill="#b08a3a"/>
<text x="644" y="539.8" font-size="26.5" font-weight="bold" fill="url(#gold)" stroke="#ad8030" stroke-width="1.2" paint-order="stroke" textLength="45.5" lengthAdjust="spacingAndGlyphs">DEV</text>
<circle cx="698" cy="530.2" r="7.5" fill="#fff" stroke="#c49c48" stroke-width="2.1"/>
<path d="M698,530.2 L698,524 A6.2,6.2 0 0 1 704.2,530.2 Z" fill="#2a5fb0"/>
<path d="M698,530.2 L698,536.4 A6.2,6.2 0 0 1 691.8,530.2 Z" fill="#2a5fb0"/>
<path d="M700,526 l2,1 l-1,2 l-1.5,-1 z M694,532 l2,0.5 l0,2 l-1.5,-0.5 z" fill="#4a9a3a"/>
<path d="M688.5,530.2 H707.5" stroke="#b08a3a" stroke-width="0.8"/>
<text transform="translate(702,561.5) rotate(-35)" font-family="'Liberation Serif',serif" font-style="italic" font-size="14" fill="#b6954c" textLength="56" lengthAdjust="spacingAndGlyphs">Engineering</text>
</g>
</svg>
</body></html>
